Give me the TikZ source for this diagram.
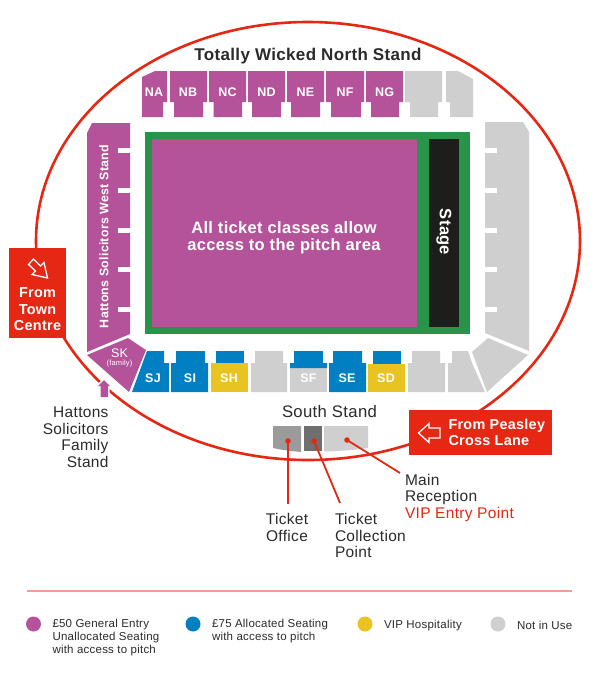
\documentclass[tikz,border=0pt]{standalone}
\usepackage{fontspec}
\setmainfont[LetterSpace=2]{Liberation Sans}
\definecolor{pk}{HTML}{B5539A}
\definecolor{bl}{HTML}{0080C3}
\definecolor{yl}{HTML}{E9C322}
\definecolor{gy}{HTML}{CFCFCF}
\definecolor{gn}{HTML}{27944A}
\definecolor{bk}{HTML}{1D1D1B}
\definecolor{rd}{HTML}{E52713}
\definecolor{tx}{HTML}{2B2B2B}
\definecolor{rl}{HTML}{F29C94}
\definecolor{bgrey}{HTML}{9B9B9B}
\definecolor{cgrey}{HTML}{706F6F}
\newcommand{\fsz}[2]{\fontsize{#1}{#2}\selectfont}
% wide top, narrow foot (north stand)
\newcommand{\nblock}[5]{\fill[#1] (#2,71)--(#5,71)--(#5,102)--(#4,102)--(#4,117)--(#3,117)--(#3,102)--(#2,102)--cycle;}
% narrow top, wide foot (south stand)
\newcommand{\sblock}[5]{\fill[#1] (#3,351)--(#4,351)--(#4,363)--(#5,363)--(#5,392)--(#2,392)--(#2,363)--(#3,363)--cycle;}
\tikzset{
  every node/.style={inner sep=0pt,outer sep=0pt},
  blocklabel/.style={text=white,font=\fsz{12.5}{14}\bfseries},
  darklabel/.style={text=tx,font=\fsz{15.5}{16.6},align=left},
  legendtext/.style={text=tx,font=\fsz{11.5}{13.2},align=left,anchor=west},
  redbox/.style={fill=rd},
  boxlabel/.style={text=white,font=\fsz{14.4}{16.5}\bfseries,align=center},
  redline/.style={draw=rd,line width=1.8pt},
  reddot/.style={circle,fill=rd,minimum size=5.5pt},
  legdot/.style={circle,minimum size=15pt},
  notch/.style={fill=white}
}
\begin{document}
\begin{tikzpicture}[x=1pt,y=-1pt]
\useasboundingbox (0,0) rectangle (600,683);
\fill[white] (0,0) rectangle (600,683);
% outer ring
\draw[draw=rd,line width=2.6pt] (308,241) ellipse [x radius=272,y radius=219];
% arrow to family stand (white halo over ring)
\draw[draw=white,line width=3pt,fill=pk,line join=miter] (104,380)--(110,386)--(108,386)--(108,397)--(100.5,397)--(100.5,386)--(98,386)--cycle;
\fill[pk] (104,380)--(110,386)--(108,386)--(108,397)--(100.5,397)--(100.5,386)--(98,386)--cycle;
% north stand
\fill[pk] (142,77)--(155,71)--(167,71)--(167,102)--(163,102)--(163,117)--(142,117)--cycle;
\nblock{pk}{170}{174}{203}{207}
\nblock{pk}{209}{213.5}{242}{246}
\nblock{pk}{248}{252}{281}{285}
\nblock{pk}{287}{291}{320}{324}
\nblock{pk}{326}{331}{361}{364}
\nblock{pk}{366}{371}{399}{403}
\nblock{gy}{405}{410}{438}{442}
\fill[gy] (446,71)--(458,71)--(473,79)--(473,117)--(450,117)--(450,102)--(446,102)--cycle;
% pitch
\fill[gn] (145,132) rectangle (470,333.5);
\fill[pk] (152,139) rectangle (417,327);
\fill[bk] (429,139) rectangle (459,327);
% west stand
\fill[pk] (87,133)--(92,123)--(130,123)--(130,334)--(87,352)--cycle;
\foreach \ny in {148,188,228,267,307} \fill[notch] (118,\ny) rectangle (130.5,\ny+5);
% east stand
\fill[gy] (485,122)--(523,122)--(529,132)--(529,351)--(485,333)--cycle;
\foreach \ny in {148,188,228,267,307} \fill[notch] (484.5,\ny) rectangle (497,\ny+5);
% family stand and corners
\fill[pk] (87,355)--(128,338)--(146,350)--(129,392)--cycle;
\fill[bl] (147,351)--(164,351)--(164,363)--(169,363)--(169,392)--(132,392)--cycle;
\fill[gy] (472,352)--(488,338)--(528,355)--(487,392)--cycle;
% south stand
\sblock{bl}{171}{176}{205}{208}
\fill[bl] (216,351) rectangle (244,364);
\fill[yl] (211,363) rectangle (248,392);
\sblock{gy}{251}{255}{283}{287}
\fill[gy] (290,367) rectangle (327,392);
\fill[bl] (294,351)--(323,351)--(323,363)--(327,363)--(327,368)--(290,368)--(290,363)--(294,363)--cycle;
\sblock{bl}{329}{333}{362}{366}
\fill[bl] (373,351) rectangle (401,364);
\fill[yl] (368,363.5) rectangle (405,392);
\sblock{gy}{408}{412}{440}{445}
\fill[gy] (452,351)--(468,351)--(472,363)--(485,392)--(448,392)--(448,363)--(452,363)--cycle;
% block labels
\foreach \nm/\lx in {NA/154,NB/188,NC/227.5,ND/266.5,NE/305.5,NF/345,NG/384.5}
  \node[blocklabel] (lab\nm) at (\lx,92) {\nm};
\foreach \nm/\lx in {SJ/153,SI/190,SH/229,SF/308.5,SE/347,SD/386}
  \node[blocklabel] (lab\nm) at (\lx,378) {\nm};
\node[text=white,font=\fsz{12.5}{14}] (labSK) at (119.5,353) {SK};
\node[text=white,font=\fsz{7.5}{9}] (labfam) at (119.5,363.5) {(family)};
% pitch text
\node[text=white,font=\fsz{16.5}{17.5}\bfseries,align=center] (pitchtext) at (284,237.5) {All ticket classes allow\\access to the pitch area};
\node[text=white,font=\fsz{16.5}{18}\bfseries,rotate=-90] (stage) at (444,232) {Stage};
\node[text=white,font=\fsz{12.4}{14}\bfseries,rotate=90] (west) at (104,236.5) {Hattons Solicitors West Stand};
% titles
\node[text=tx,font=\fsz{17}{18}\bfseries] (north) at (308,56.5) {Totally Wicked North Stand};
\node[text=tx,font=\fsz{16.7}{18}] (south) at (329.5,411.5) {South Stand};
% south buildings
\fill[bgrey] (273,426)--(301,426)--(301,452)..controls (290,451) and (282,450)..(273,448)--cycle;
\fill[cgrey] (304,426) rectangle (322,451);
\fill[gy] (324,426)--(368,426)--(368,448)..controls (355,450) and (340,451)..(324,451.5)--cycle;
% entrance boxes
\node[redbox,minimum width=57pt,minimum height=90pt] (boxtown) at (37.5,293) {};
\node[boxlabel] (boxtowntext) at (37.5,309.5) {From\\Town\\Centre};
\draw[draw=white,line width=1.3pt,line join=miter] (47.5,278)--(32,274.5)--(35.5,271)--(28.5,264.5)--(33.5,259)--(40.5,266)--(44,262.5)--cycle;
\node[redbox,minimum width=143pt,minimum height=45pt] (boxpeas) at (480.5,432.5) {};
\node[boxlabel,align=left,anchor=west] (boxpeastext) at (448.5,432.5) {From Peasley\\Cross Lane};
\draw[draw=white,line width=1.3pt,line join=miter] (418.5,433)--(429,423.5)--(429,428)--(440,428)--(440,438)--(429,438)--(429,442.5)--cycle;
% connectors
\node[reddot] (dotoffice) at (288,441) {};
\node[reddot] (dotcollect) at (314,441) {};
\node[reddot] (dotmain) at (347,440) {};
\coordinate (endoffice) at (288,504);
\coordinate (endcollect) at (340,503);
\coordinate (endmain) at (400,473);
\draw[redline] (dotoffice.center) -- (endoffice);
\draw[redline] (dotcollect.center) -- (endcollect);
\draw[redline] (dotmain.center) -- (endmain);
% labels
\node[darklabel,align=right,anchor=north east] (family) at (108.5,407) {Hattons\\Solicitors\\Family\\Stand};
\node[darklabel,align=center,anchor=north] (office) at (287,513.5) {Ticket\\Office};
\node[darklabel,anchor=north west] (collect) at (335,513.5) {Ticket\\Collection\\Point};
\node[darklabel,anchor=north west] (main) at (405,474) {Main\\Reception\\\textcolor{rd}{VIP Entry Point}};
% legend
\coordinate (rulea) at (27,591);
\coordinate (ruleb) at (572,591);
\draw[draw=rl,line width=1.5pt] (rulea) -- (ruleb);
\node[legdot,fill=pk] (legpk) at (33.5,624) {};
\node[legdot,fill=bl] (legbl) at (193,624) {};
\node[legdot,fill=yl] (legyl) at (365,624) {};
\node[legdot,fill=gy] (leggy) at (498,624) {};
\node[legendtext,anchor=north west] (legpkt) at (52.5,619) {£50 General Entry\\Unallocated Seating\\with access to pitch};
\node[legendtext,anchor=north west] (legblt) at (212,619) {£75 Allocated Seating\\with access to pitch};
\node[legendtext] (legylt) at (384,625.5) {VIP Hospitality};
\node[legendtext] (leggyt) at (517,625.5) {Not in Use};
\end{tikzpicture}
\end{document}
